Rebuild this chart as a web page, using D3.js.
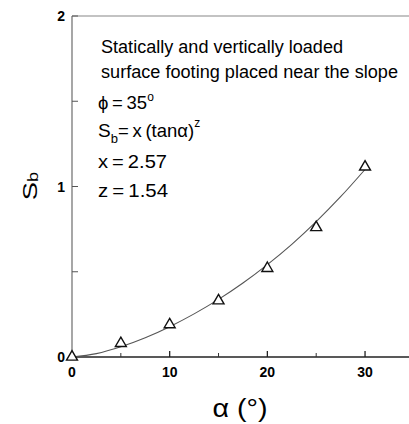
<!DOCTYPE html>
<html>
<head>
<meta charset="utf-8">
<script src="https://cdn.jsdelivr.net/npm/d3@7"></script>
<style>
  body { margin: 0; background: #fff; }
  svg { display: block; font-family: "Liberation Sans", Arial, sans-serif; }
</style>
</head>
<body>
<div id="viz"></div>
<script>
// measured points (triangles)
var alphaPts = [0, 5, 10, 15, 20, 25, 30];
var sbPts = [0, 0.08, 0.19, 0.33, 0.52, 0.76, 1.115];

// fitted curve
var alphaFit = [0, 2.5, 5, 7.5, 10, 12.5, 15, 17.5, 20, 22.5, 25, 27.5, 30];
var sbFit = [0, 0.02, 0.06, 0.113, 0.178, 0.253, 0.338, 0.434, 0.542, 0.661, 0.794, 0.94, 1.10];

var xTicks = [0, 10, 20, 30];
var xMinor = [5, 15, 25];
var yTicks = [0, 1, 2];
var yMinor = [0.5, 1.5];

var width = 409, height = 424;
var margin = {top: 16, right: 0, bottom: 67, left: 72};

var x = d3.scaleLinear().domain([0, 34.5]).range([margin.left, width]);
var y = d3.scaleLinear().domain([0, 2]).range([height - margin.bottom, margin.top]);

var svg = d3.select("#viz").append("svg")
    .attr("width", width)
    .attr("height", height);

// top frame line
svg.append("line")
    .attr("x1", x(0)).attr("x2", width)
    .attr("y1", y(2)).attr("y2", y(2))
    .attr("stroke", "#888").attr("stroke-width", 1.2);

// axes
svg.append("line")
    .attr("x1", x(0)).attr("x2", x(0))
    .attr("y1", y(0)).attr("y2", y(2))
    .attr("stroke", "#777").attr("stroke-width", 1.3);
svg.append("line")
    .attr("x1", x(0)).attr("x2", width)
    .attr("y1", y(0)).attr("y2", y(0))
    .attr("stroke", "#222").attr("stroke-width", 1.6);

// x ticks (inward)
svg.selectAll(".xt").data(xTicks).enter().append("line")
    .attr("x1", function(d) { return x(d); }).attr("x2", function(d) { return x(d); })
    .attr("y1", y(0)).attr("y2", y(0) - 6)
    .attr("stroke", "#222").attr("stroke-width", 1.3);
svg.selectAll(".xm").data(xMinor).enter().append("line")
    .attr("x1", function(d) { return x(d); }).attr("x2", function(d) { return x(d); })
    .attr("y1", y(0)).attr("y2", y(0) - 4)
    .attr("stroke", "#333").attr("stroke-width", 1);
svg.selectAll(".xl").data(xTicks).enter().append("text")
    .attr("x", function(d) { return x(d); })
    .attr("y", y(0) + 20)
    .attr("text-anchor", "middle")
    .attr("font-size", 14).attr("font-weight", "bold")
    .text(function(d) { return d; });

// y ticks
svg.selectAll(".yt").data(yTicks.concat(yMinor)).enter().append("line")
    .attr("x1", x(0)).attr("x2", x(0) + 6)
    .attr("y1", function(d) { return y(d); }).attr("y2", function(d) { return y(d); })
    .attr("stroke", "#555").attr("stroke-width", 1);
svg.selectAll(".yl").data(yTicks).enter().append("text")
    .attr("x", x(0) - 7)
    .attr("y", function(d) { return y(d) + 5; })
    .attr("text-anchor", "end")
    .attr("font-size", 14).attr("font-weight", "bold")
    .text(function(d) { return d; });

// fitted curve
var line = d3.line()
    .x(function(d) { return x(d[0]); })
    .y(function(d) { return y(d[1]); })
    .curve(d3.curveMonotoneX);
svg.append("path")
    .datum(alphaFit.map(function(a, i) { return [a, sbFit[i]]; }))
    .attr("d", line)
    .attr("fill", "none")
    .attr("stroke", "#555")
    .attr("stroke-width", 1.1);

// triangles
var tri = d3.symbol().type(d3.symbolTriangle).size(52);
svg.selectAll(".pt").data(alphaPts).enter().append("path")
    .attr("d", tri)
    .attr("transform", function(d, i) { return "translate(" + x(d) + "," + y(sbPts[i]) + ")"; })
    .attr("fill", "#fff")
    .attr("stroke", "#111")
    .attr("stroke-width", 1.4);

// annotations
svg.append("text").attr("x", 101).attr("y", 53).attr("font-size", 17.5)
    .attr("textLength", 242).attr("lengthAdjust", "spacingAndGlyphs")
    .text("Statically and vertically loaded");
svg.append("text").attr("x", 101).attr("y", 78).attr("font-size", 17.5)
    .attr("textLength", 297).attr("lengthAdjust", "spacingAndGlyphs")
    .text("surface footing placed near the slope");

var t1 = svg.append("text").attr("x", 98).attr("y", 109).attr("font-size", 18.5);
t1.append("tspan").text("\u03d5\u2009=\u200935");
t1.append("tspan").attr("font-size", 12).attr("dy", -8).text("o");

var t2 = svg.append("text").attr("x", 98).attr("y", 137).attr("font-size", 19);
t2.append("tspan").text("S");
t2.append("tspan").attr("font-size", 13).attr("dy", 6).text("b");
t2.append("tspan").attr("dy", -6).attr("font-size", 18.5).text("=\u2009x\u2009(tan\u03b1)");
t2.append("tspan").attr("font-size", 12).attr("dy", -10).text("z");

svg.append("text").attr("x", 98).attr("y", 168).attr("font-size", 19)
    .attr("textLength", 69).attr("lengthAdjust", "spacingAndGlyphs")
    .text("x\u2009=\u20092.57");
svg.append("text").attr("x", 98).attr("y", 197).attr("font-size", 19)
    .attr("textLength", 70).attr("lengthAdjust", "spacingAndGlyphs")
    .text("z\u2009=\u20091.54");

// axis titles
var yl = svg.append("text")
    .attr("transform", "translate(37,186) rotate(-90) scale(1.3,1)")
    .attr("text-anchor", "middle")
    .attr("font-size", 21);
yl.append("tspan").text("S");
yl.append("tspan").attr("font-size", 14).attr("dy", 1).text("b");

svg.append("text")
    .attr("x", 240).attr("y", 417)
    .attr("text-anchor", "middle")
    .attr("font-size", 25)
    .attr("textLength", 55).attr("lengthAdjust", "spacingAndGlyphs")
    .text("\u03b1 (\u00b0)");
</script>
</body>
</html>
